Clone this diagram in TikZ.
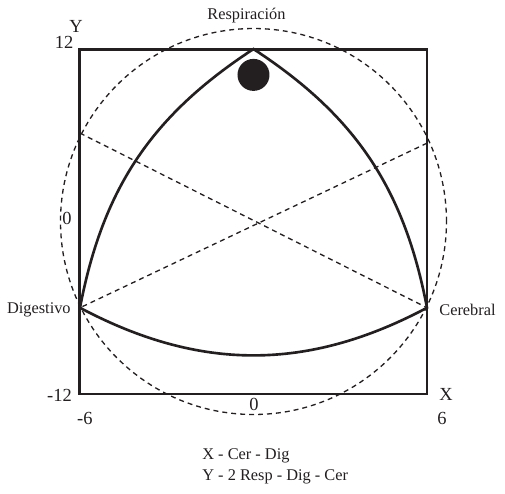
\documentclass[tikz,border=0pt]{standalone}
\usepackage{fontspec}
\setmainfont{Liberation Serif}
\usetikzlibrary{positioning}
\definecolor{ink}{HTML}{231F20}

\begin{document}
\begin{tikzpicture}[
    x=0.5784cm, y=0.2875cm,
    boxline/.style={draw=ink, line width=1.7pt},
    curve/.style={draw=ink, line width=1.5pt},
    guide/.style={draw=ink, line width=0.75pt, dash pattern=on 2.8pt off 2.3pt},
    organ/.style={inner sep=0pt, text=ink, font=\fontsize{9.3}{12}\selectfont},
    axisnum/.style={inner sep=0pt, text=ink, font=\fontsize{10.5}{12}\selectfont}
]
    \useasboundingbox (-8.766,-18.89) rectangle (8.697,15.41);

    % Frame and outer circle
    \draw[boxline] (-6,-12) rectangle (6,12);
    \coordinate (o) at (0,0);
    \draw[guide] (o) circle[radius=3.86cm];

    % Corners of the curved triangle
    \coordinate (resp) at (0,12);
    \coordinate (dig) at (-6,-6);
    \coordinate (cer) at (6,-6);
    \coordinate (l) at (-6,6.15);
    \coordinate (r) at (6,5.45);

    % Dashed diagonals
    \draw[guide] (l) -- (cer);
    \draw[guide] (r) -- (dig);

    % Curved triangle and dot
    \draw[curve] (dig) to[bend left=23] (resp) to[bend left=23] (cer) to[bend left=28] (dig);
    \fill[ink] (0,10.2) circle[radius=0.32cm];

    % Corner names
    \node[organ, above=0.52cm of resp, xshift=-0.14cm] (nresp) {Respiración};
    \node[organ, left=0.18cm of dig, yshift=-0.05cm] (ndig) {Digestivo};
    \node[organ, right=0.24cm of cer, yshift=-0.05cm] (ncer) {Cerebral};

    % Axis labels
    \node[axisnum] (ty) at (-6.14,13.6) {Y};
    \node[axisnum] (t12) at (-6.55,12.49) {12};
    \node[axisnum] (t0) at (-6.45,0.24) {0};
    \node[axisnum] (tm12) at (-6.71,-12.07) {-12};
    \node[axisnum] (tm6) at (-5.83,-13.67) {-6};
    \node[axisnum] (tx0) at (0.02,-12.7) {0};
    \node[axisnum] (tx) at (6.66,-12.0) {X};
    \node[axisnum] (t6) at (6.52,-13.67) {6};

    % Legend
    \node[organ, align=left, anchor=west] (legend) at (-1.78,-17.04) {X - Cer - Dig\\Y - 2 Resp - Dig - Cer};
\end{tikzpicture}
\end{document}
